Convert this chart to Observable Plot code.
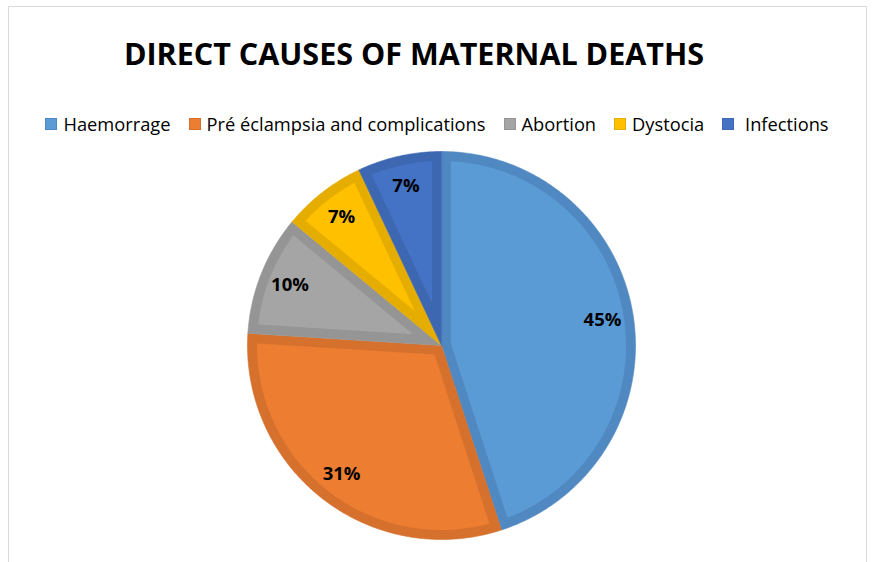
<!DOCTYPE html>
<html>
<head>
<meta charset="utf-8">
<script src="https://cdn.jsdelivr.net/npm/d3@7"></script>
<script src="https://cdn.jsdelivr.net/npm/@observablehq/plot@0.6"></script>
<style>
  body { margin: 0; background: #fff; }
  #wrap { position: relative; width: 873px; height: 562px; overflow: hidden; font-family: "Open Sans", sans-serif; }
  #frame { position: absolute; left: 8px; top: 6px; width: 859px; height: 620px; border: 1.5px solid #d9d9d9; box-sizing: border-box; }
  #chart { position: absolute; left: 0; top: 0; }
  #title { position: absolute; top: 32px; left: 0; width: 828px; text-align: center; font-weight: 700; font-size: 30.5px; color: #000; white-space: nowrap; }
  #legend { position: absolute; top: 111px; left: 0; width: 874px; display: flex; justify-content: center; font-size: 18.3px; color: #000; white-space: pre; }
  .item { display: flex; align-items: center; margin: 0 9px; }
  .sw { width: 12px; height: 12px; margin-right: 6px; box-sizing: border-box; }
</style>
</head>
<body>
<div id="wrap">
  <div id="frame"></div>
  <div id="chart"></div>
  <div id="title">DIRECT CAUSES OF MATERNAL DEATHS</div>
  <div id="legend"></div>
</div>
<script>
// ---- data ----
const causes = ["Haemorrage", "Pré éclampsia and complications", "Abortion", "Dystocia", "Infections"];
const shares = [45, 31, 10, 7, 7];
const legendLabels = ["Haemorrage", "Pré éclampsia and complications", "Abortion", "Dystocia", " Infections"];

// ---- styles ----
const fills = ["#5B9BD5", "#ED7D31", "#A5A5A5", "#FFC000", "#4472C4"];
const bands = ["#5089C2", "#D5712D", "#959595", "#E5AD00", "#3E67B1"];

const bandW = 9.5 / 194; // band width relative to radius
const labelR = 0.84;

const arcs = d3.pie().sort(null).value(d => d)(shares);
const pt = (a, r) => [Math.sin(a) * r, -Math.cos(a) * r];
function arcPts(a0, a1, r) {
  const n = Math.max(2, Math.ceil((a1 - a0) / 0.01));
  return d3.range(n + 1).map(i => pt(a0 + (a1 - a0) * i / n, r));
}
const outer = arcs.map((a, i) => ({
  type: "Feature",
  properties: { color: bands[i] },
  geometry: { type: "Polygon", coordinates: [[[0, 0], ...arcPts(a.startAngle, a.endAngle, 1), [0, 0]]] }
}));
const inner = arcs.map((a, i) => {
  const half = (a.endAngle - a.startAngle) / 2;
  const Ri = 1 - bandW;
  const d = Math.asin(bandW / Ri);
  const v = pt(a.startAngle + half, bandW / Math.sin(half));
  return {
    type: "Feature",
    properties: { color: fills[i] },
    geometry: { type: "Polygon", coordinates: [[v, ...arcPts(a.startAngle + d, a.endAngle - d, Ri), v]] }
  };
});
const circle = { type: "Polygon", coordinates: [arcPts(0, 2 * Math.PI, 1)] };

const chart = Plot.plot({
  width: 873,
  height: 562,
  marginLeft: 247,
  marginRight: 238,
  marginTop: 151,
  marginBottom: 23,
  projection: { type: "identity", domain: circle },
  style: { fontFamily: "Open Sans", background: "transparent" },
  marks: [
    Plot.geo(outer, { fill: d => d.properties.color, stroke: d => d.properties.color, strokeWidth: 0.6 }),
    Plot.geo(inner, { fill: d => d.properties.color }),
    Plot.text(arcs, {
      x: d => pt((d.startAngle + d.endAngle) / 2, labelR)[0],
      y: d => pt((d.startAngle + d.endAngle) / 2, labelR)[1],
      text: d => d.data + "%",
      fontSize: 18.5,
      fontWeight: "bold",
      fill: "#000"
    })
  ]
});
document.getElementById("chart").appendChild(chart);

// legend
const leg = document.getElementById("legend");
causes.forEach((c, i) => {
  const it = document.createElement("div");
  it.className = "item";
  const sw = document.createElement("div");
  sw.className = "sw";
  sw.style.background = fills[i];
  sw.style.border = "1px solid " + bands[i];
  const t = document.createElement("span");
  t.textContent = legendLabels[i];
  it.appendChild(sw);
  it.appendChild(t);
  leg.appendChild(it);
});
</script>
</body>
</html>
